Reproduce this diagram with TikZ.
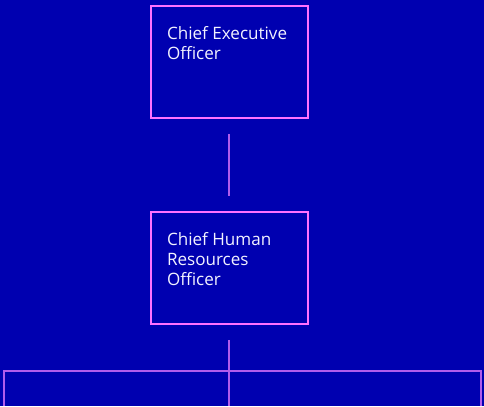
\documentclass[tikz,border=0pt]{standalone}
\usepackage{fontspec}
\setmainfont{Open Sans}
\usepackage{xcolor}
\usepackage{tikz}
\usetikzlibrary{calc}

\definecolor{bgblue}{HTML}{0000B0}
\definecolor{boxpink}{HTML}{FF70FF}
\definecolor{linkpurple}{HTML}{B05CEC}
\definecolor{textwhite}{HTML}{F2F2FF}

\newcommand{\posttext}[1]{\parbox[b][84pt][t]{93.75pt}{\rule{0pt}{25.2pt}#1}}

\tikzset{
	post/.style={draw=boxpink, line width=1.2pt, inner xsep=12pt, inner ysep=0pt,
		text=textwhite, font=\fontsize{12.8pt}{15pt}\selectfont},
	link/.style={draw=linkpurple, line width=1.5pt}
}

\begin{document}
\begin{tikzpicture}[x=0.75pt,y=-0.75pt]
\fill[bgblue] (0,0) rectangle (484,406);
\useasboundingbox (0,0) rectangle (484,406);

\node[post] (ceo) at (229.5,62) {\posttext{Chief Executive\\Officer}};
\node[post] (chro) at (229.5,268) {\posttext{Chief Human\\Resources\\Officer}};

\draw[link] ($(ceo.south)+(-1,15)$) -- ($(chro.north)+(-1,-15)$);

% branch to the next level
\coordinate (hub) at (229,371);
\coordinate (west) at (4,371);
\coordinate (east) at (481,371);
\draw[link] ($(chro.south)+(-0.5,15)$) -- (229,406);
\draw[link] (west |- 0,406) -- (west) -- (east) -- (east |- 0,406);

\end{tikzpicture}
\end{document}
